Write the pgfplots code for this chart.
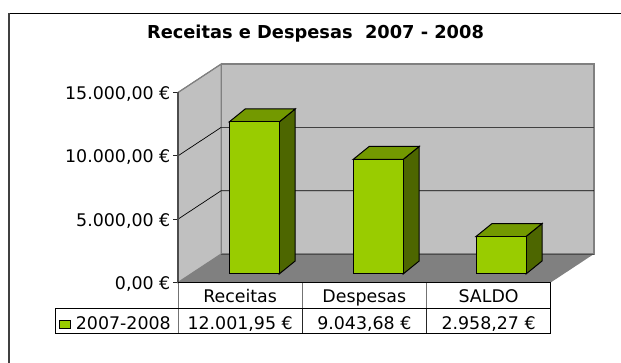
\documentclass[border=0pt]{standalone}
\usepackage{pgfplots}
\pgfplotsset{compat=1.18}
\usepackage{fontspec}
\setmainfont{DejaVu Sans}
\definecolor{barF}{HTML}{99CC00}
\definecolor{barT}{HTML}{739900}
\definecolor{barS}{HTML}{4D6600}
\definecolor{wall}{HTML}{C0C0C0}
\definecolor{floorc}{HTML}{808080}
\definecolor{edge}{HTML}{808080}
\begin{document}
\begin{tikzpicture}[x=1pt,y=1pt]
\useasboundingbox (0,0) rectangle (621,363);
\draw[black,line width=1pt] (9,363-13.5) -- (621,363-13.5);
\draw[black!75,line width=1.4pt] (9,0) -- (9,363-13);
\node[anchor=base,font=\bfseries\fontsize{17.8}{19}\selectfont] at (315.5,324.8) {Receitas e Despesas\ \ 2007 - 2008};
\begin{axis}[
  at={(178pt,80.5pt)},anchor=south west,
  scale only axis,width=372.7pt,height=190pt,
  xmin=0,xmax=3,ymin=0,ymax=15000,clip=false,
  axis line style={draw=none},
  scaled y ticks=false,
  xtick={0.5,1.5,2.5},xticklabels={Receitas,Despesas,SALDO},
  ytick={0,5000,10000,15000},
  yticklabels={{0,00 €},{5.000,00 €},{10.000,00 €},{15.000,00 €}},
  ytick pos=left,xtick pos=bottom,
  tick align=outside,
  major tick length=5pt,
  ytick style={black!85,line width=0.8pt},
  xtick style={draw=none},
  yticklabel style={font=\fontsize{17.4}{18}\selectfont,inner sep=0pt,xshift=-2.5pt,yshift=-1.5pt},
  xticklabel style={font=\fontsize{17.4}{18}\selectfont,anchor=base,yshift=-15.5pt,inner sep=0pt},
]
% walls and floor
\addplot[fill=wall,draw=edge,line width=1.2pt] coordinates {(0,0)(0.348,2250)(0.348,17250)(0,15000)} -- cycle;
\addplot[fill=wall,draw=edge,line width=1.2pt] coordinates {(0.348,2250)(3.348,2250)(3.348,17250)(0.348,17250)} -- cycle;
\addplot[fill=floorc,draw=none] coordinates {(0,0)(3,0)(3.348,2250)(0.348,2250)} -- cycle;
\addplot[draw=black!70!white,line width=0.9pt] coordinates {(0.348,2250)(3.348,2250)};
% gridlines
\addplot[black,line width=0.7pt] coordinates {(0,5000)(0.348,7250)(3.348,7250)};
\addplot[black!75,line width=0.9pt] coordinates {(0.348,12250)(3.348,12250)};
\addplot[black,line width=0.7pt] coordinates {(0,10000)(0.348,12250)};
\addplot[edge,line width=0.9pt] coordinates {(0,15000)(0.348,17250)};
\addplot[black!70,line width=1.4pt] coordinates {(0,0)(0,15000)};
% bars: side and top faces, then front
\addplot[fill=barS,draw=black,line width=1pt,yshift=8.5pt] coordinates {(0.8142,0)(0.9432,1026)(0.9432,13027.95)(0.8142,12001.95)} -- cycle;
\addplot[fill=barT,draw=black,line width=1pt,yshift=8.5pt] coordinates {(0.4118,12001.95)(0.8142,12001.95)(0.9432,13027.95)(0.5408,13027.95)} -- cycle;
\addplot[fill=barS,draw=black,line width=1pt,yshift=8.5pt] coordinates {(1.8122,0)(1.9412,1026)(1.9412,10069.68)(1.8122,9043.68)} -- cycle;
\addplot[fill=barT,draw=black,line width=1pt,yshift=8.5pt] coordinates {(1.4098,9043.68)(1.8122,9043.68)(1.9412,10069.68)(1.5388,10069.68)} -- cycle;
\addplot[fill=barS,draw=black,line width=1pt,yshift=8.5pt] coordinates {(2.8012,0)(2.9302,1026)(2.9302,3984.27)(2.8012,2958.27)} -- cycle;
\addplot[fill=barT,draw=black,line width=1pt,yshift=8.5pt] coordinates {(2.3988,2958.27)(2.8012,2958.27)(2.9302,3984.27)(2.5278,3984.27)} -- cycle;
\addplot[ybar,bar width=50pt,bar shift=0pt,fill=barF,draw=black,line width=1pt,yshift=8.5pt] coordinates {(0.613,12001.95)(1.611,9043.68)(2.6,2958.27)};
% data table
\draw[black!55,line width=0.8pt] (axis cs:0,0) -- (axis cs:0,-4010);
\draw[black!55,line width=0.8pt] (axis cs:1,0) -- (axis cs:1,-2037);
\draw[black!55,line width=0.8pt] (axis cs:2,0) -- (axis cs:2,-2037);
\draw[black!85,line width=0.8pt] (axis cs:1,-2037) -- (axis cs:1,-4010);
\draw[black!85,line width=0.8pt] (axis cs:2,-2037) -- (axis cs:2,-4010);
\draw[black,line width=0.9pt] (axis cs:0,0) -- (axis cs:3,0) -- (axis cs:3,-4010) -- (axis cs:-0.99,-4010) -- (axis cs:-0.99,-2037) -- (axis cs:3,-2037);
\draw[black,fill=barF,line width=0.9pt] (axis cs:-0.955,-2980) rectangle (axis cs:-0.868,-3630);
\node[anchor=base,inner sep=0pt,font=\fontsize{17.4}{18}\selectfont] at (axis cs:-0.44,-3700) {2007-2008};
\node[anchor=base,inner sep=0pt,font=\fontsize{17.4}{18}\selectfont] at (axis cs:0.5,-3700) {12.001,95 €};
\node[anchor=base,inner sep=0pt,font=\fontsize{17.4}{18}\selectfont] at (axis cs:1.5,-3700) {9.043,68 €};
\node[anchor=base,inner sep=0pt,font=\fontsize{17.4}{18}\selectfont] at (axis cs:2.5,-3700) {2.958,27 €};
\end{axis}
\end{tikzpicture}
\end{document}
